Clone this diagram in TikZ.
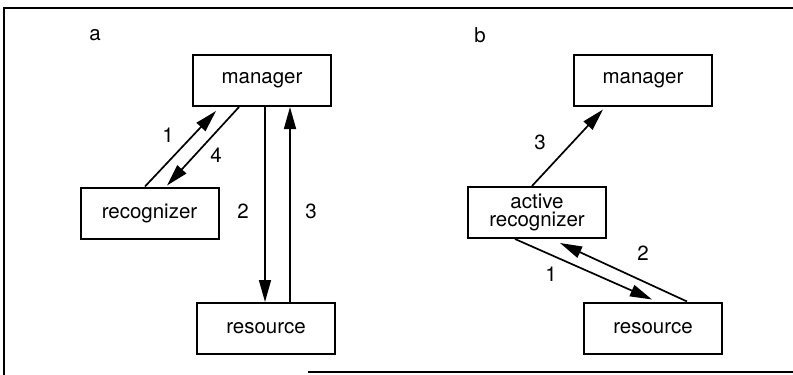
\documentclass[tikz,border=0pt]{standalone}
\usepackage{fontspec}
\setmainfont{TeX Gyre Heros}
\usetikzlibrary{arrows.meta}
\begin{document}
\begin{tikzpicture}[x=1pt,y=-1pt,
  box/.style={draw, line width=2pt, rectangle, inner sep=0pt,
    minimum width=138pt, minimum height=51pt, align=center,
    font=\fontsize{20.5}{18.5}\selectfont},
  lbl/.style={inner sep=0pt, font=\fontsize{20.5}{22}\selectfont},
  flow/.style={line width=1.7pt, -{Triangle[length=22pt,width=12pt]}},
  frame/.style={line width=1.7pt}]
\useasboundingbox (0,0) rectangle (793,375);

% outer frame (open on the right)
\coordinate (f1) at (793,8);
\coordinate (f2) at (4,8);
\coordinate (f3) at (4,375);
\coordinate (f4) at (308,372);
\coordinate (f5) at (793,372);
\draw[frame] (f1) -- (f2) -- (f3);
\draw[frame] (f4) -- (f5);

% ---- panel a ----
\node[lbl] (la) at (95,35) {a};
\node[box] (mgrA) at (262,80.5) {manager};
\node[box] (recA) at (149.5,213) {recognizer};
\node[box] (resA) at (266,328.5) {resource};

\draw[flow] ([xshift=-4.5pt]recA.north) -- ([xshift=-46pt,yshift=-4pt]mgrA.south);
\draw[flow] ([xshift=-23pt]mgrA.south) -- ([xshift=17.5pt,yshift=1pt]recA.north);
\draw[flow] ([xshift=3pt]mgrA.south) -- ([xshift=3pt]mgrA.south |- resA.north);
\draw[flow] ([xshift=28pt]mgrA.south |- resA.north) -- ([xshift=28pt]mgrA.south);

\node[lbl] (a1) at (168,135) {1};
\node[lbl] (a4) at (216,155) {4};
\node[lbl] (a2) at (243,211) {2};
\node[lbl] (a3) at (311,211) {3};

% ---- panel b ----
\node[lbl] (lb) at (480,35) {b};
\node[box] (mgrB) at (643,80) {manager};
\node[box] (recB) at (537,212.5) {active\\recognizer};
\node[box] (resB) at (653,328) {resource};

\draw[flow] ([xshift=-5pt]recB.north) -- ([xshift=-40pt,yshift=-3pt]mgrB.south);
\draw[flow] ([xshift=-22pt]recB.south) -- ([xshift=-1pt,yshift=2pt]resB.north);
\draw[flow] ([xshift=34pt]resB.north) -- ([xshift=23pt,yshift=-4pt]recB.south);

\node[lbl] (b3) at (540,142) {3};
\node[lbl] (b1) at (551,274) {1};
\node[lbl] (b2) at (643,253) {2};
\end{tikzpicture}
\end{document}
